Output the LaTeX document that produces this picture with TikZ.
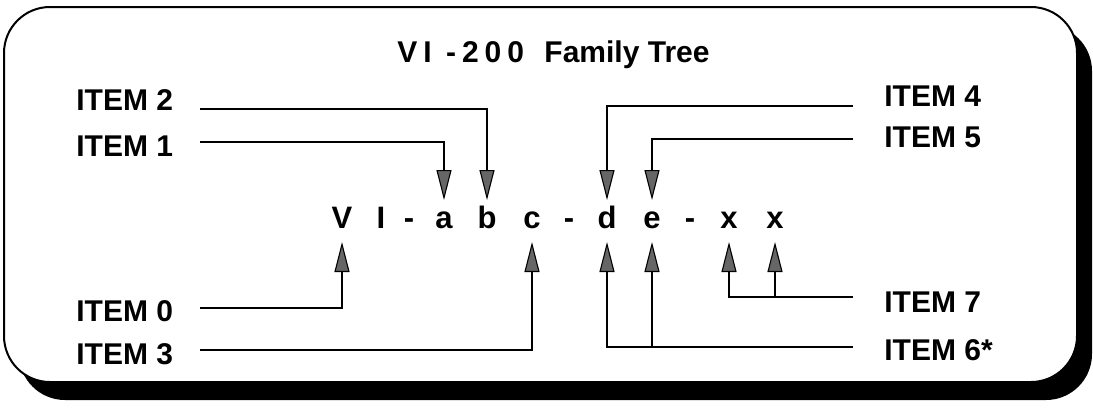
\documentclass[tikz,border=0pt]{standalone}
\usepackage{fontspec}
\setmainfont{Liberation Sans}
\usetikzlibrary{arrows.meta}

\tikzset{
  lbl/.style={font=\fontsize{15}{18}\selectfont\bfseries, inner sep=0pt},
  chr/.style={font=\fontsize{15.5}{18}\selectfont\bfseries, inner sep=0pt, anchor=base},
  feed/.style={-{Triangle[length=15pt,width=7.5pt,fill=black!60]}, line width=0.55pt},
}

\begin{document}
\begin{tikzpicture}[x=0.5pt, y=-0.5pt]
		\useasboundingbox (0,0) rectangle (1093,408);
		% Frame
		\fill[rounded corners=23pt] (19,25) rectangle (1092,400);
		\draw[fill=white, line width=1pt, rounded corners=23pt] (4,7) rectangle (1077,382);
		\node[lbl, anchor=base west] (title) at (397,62)
			{{\addfontfeature{LetterSpace=20}VI -200}\hspace{6pt} Family Tree};
		% Nodes
		\node[chr] (V)  at (342,228) {V};
		\node[chr] (I)  at (381,228) {I};
		\node[chr] (h1) at (409,228) {-};
		\node[chr] (a)  at (444,228) {a};
		\node[chr] (b)  at (487,228) {b};
		\node[chr] (c)  at (532,228) {c};
		\node[chr] (h2) at (569,228) {-};
		\node[chr] (d)  at (607,228) {d};
		\node[chr] (e)  at (652,228) {e};
		\node[chr] (h3) at (690,228) {-};
		\node[chr] (x1) at (729,228) {x};
		\node[chr] (x2) at (775,228) {x};
		\node[lbl, anchor=west] (i2) at (76,100) {ITEM 2};
		\node[lbl, anchor=west] (i1) at (76,146) {ITEM 1};
		\node[lbl, anchor=west] (i0) at (76,311) {ITEM 0};
		\node[lbl, anchor=west] (i3) at (76,354) {ITEM 3};
		\node[lbl, anchor=west] (i4) at (884,96)  {ITEM 4};
		\node[lbl, anchor=west] (i5) at (884,137) {ITEM 5};
		\node[lbl, anchor=west] (i7) at (884,302) {ITEM 7};
		\node[lbl, anchor=west] (i6) at (884,350) {ITEM 6*};
		% line ends
		\coordinate (top) at (0,200);
		\coordinate (bot) at (0,242);
		\coordinate (s2) at (200,109);
		\coordinate (s1) at (200,142);
		\coordinate (s0) at (200,308);
		\coordinate (s3) at (200,350);
		\coordinate (s4) at (853,106);
		\coordinate (s5) at (853,139);
		\coordinate (s7) at (853,297);
		\coordinate (s6) at (853,347);
		% Arrows
		\draw[feed] (s2) -| (b |- top);
		\draw[feed] (s1) -| (a |- top);
		\draw[feed] (s4) -| (d |- top);
		\draw[feed] (s5) -| (e |- top);
		\draw[feed] (s0) -| (V |- bot);
		\draw[feed] (s3) -| (c |- bot);
		\draw[feed] (s6) -| (d |- bot);
		\draw[feed] (e |- s6) -- (e |- bot);
		\draw[feed] (s7) -| (x1 |- bot);
		\draw[feed] (x2 |- s7) -- (x2 |- bot);
	\end{tikzpicture}
\end{document}
